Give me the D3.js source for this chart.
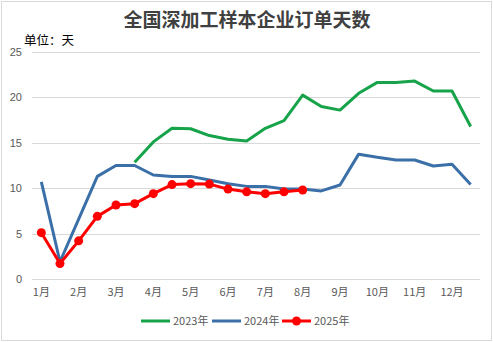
<!DOCTYPE html>
<html>
<head>
<meta charset="utf-8">
<script src="https://cdn.jsdelivr.net/npm/d3@7"></script>
<style>
  html, body { margin: 0; padding: 0; background: #fff; }
  svg { display: block; }
</style>
</head>
<body>
<svg id="chart" width="493" height="342"></svg>
<script>
// Half-month periods: 24 slots per year, a label on every other slot
const periods = d3.range(24);
const monthLabels = ["1月","2月","3月","4月","5月","6月","7月","8月","9月","10月","11月","12月"];
const yTicks = [0, 5, 10, 15, 20, 25];

// Order days per series (null = no data)
const values2023 = [null, null, null, null, null, 12.85, 15.1, 16.6, 16.55, 15.8, 15.4, 15.2,
                    16.6, 17.45, 20.25, 19.0, 18.6, 20.45, 21.65, 21.65, 21.8, 20.7, 20.7, 16.8];
const values2024 = [10.7, 1.9, 6.6, 11.3, 12.5, 12.5, 11.45, 11.3, 11.3, 10.9, 10.5, 10.2,
                    10.2, 9.9, 9.9, 9.7, 10.35, 13.75, 13.4, 13.1, 13.1, 12.45, 12.65, 10.4];
const values2025 = [5.1, 1.7, 4.2, 6.9, 8.15, 8.3, 9.4, 10.4, 10.5, 10.45, 9.9, 9.6,
                    9.4, 9.6, 9.8];

const seriesNames = ["2023年", "2024年", "2025年"];
const seriesColors = ["#16a34a", "#3b6fa8", "#ff0000"];

const svg = d3.select("#chart");
const W = 493, H = 342;
const margin = { left: 32, right: 13, top: 52, bottom: 63 };

// outer frame
svg.append("rect")
  .attr("x", 1.5).attr("y", 1.5)
  .attr("width", W - 3).attr("height", H - 3)
  .attr("fill", "#fff").attr("stroke", "#d9d9d9");

const x = d3.scaleBand().domain(periods).range([margin.left, W - margin.right]);
const y = d3.scaleLinear().domain([0, 25]).range([H - margin.bottom, margin.top]);
const cx = i => x(i) + x.bandwidth() / 2;

// gridlines
svg.append("g")
  .selectAll("line").data(yTicks).join("line")
  .attr("x1", margin.left).attr("x2", W - margin.right)
  .attr("y1", d => Math.round(y(d)) + 0.5).attr("y2", d => Math.round(y(d)) + 0.5)
  .attr("stroke", "#d9d9d9").attr("stroke-width", 1);

// y axis labels
const yAxis = d3.axisLeft(y).tickValues(yTicks).tickSize(0).tickPadding(10);
svg.append("g")
  .attr("transform", `translate(${margin.left},0)`)
  .call(yAxis)
  .call(g => g.select(".domain").remove())
  .call(g => g.selectAll("text")
    .attr("fill", "#595959")
    .style("font-family", "'Liberation Sans', Arial, sans-serif")
    .style("font-size", "11px"));

// x axis labels (one per month)
const xAxis = d3.axisBottom(x)
  .tickValues(periods.filter(i => i % 2 === 0))
  .tickFormat(i => monthLabels[i / 2])
  .tickSize(0).tickPadding(9);
svg.append("g")
  .attr("transform", `translate(0,${H - margin.bottom})`)
  .call(xAxis)
  .call(g => g.select(".domain").remove())
  .call(g => g.selectAll("text")
    .attr("fill", "#595959")
    .style("font-family", "'Noto Sans CJK SC', sans-serif")
    .style("font-size", "11px"));

// lines
const line = d3.line()
  .defined(d => d.v != null)
  .x(d => cx(d.i))
  .y(d => y(d.v));

const allSeries = [values2023, values2024, values2025];
allSeries.forEach((vals, k) => {
  const pts = vals.map((v, i) => ({ i, v }));
  svg.append("path")
    .datum(pts)
    .attr("fill", "none")
    .attr("stroke", seriesColors[k])
    .attr("stroke-width", 3)
    .attr("stroke-linejoin", "round")
    .attr("d", line);
});

// markers for 2025
svg.append("g")
  .selectAll("circle")
  .data(values2025.map((v, i) => ({ i, v })).filter(d => d.v != null))
  .join("circle")
  .attr("cx", d => cx(d.i))
  .attr("cy", d => y(d.v))
  .attr("r", 4.5)
  .attr("fill", seriesColors[2]);

// title
svg.append("text")
  .attr("x", 247).attr("y", 27)
  .attr("text-anchor", "middle")
  .attr("fill", "#404040")
  .style("font-family", "'Noto Sans CJK SC', sans-serif")
  .style("font-weight", "bold")
  .style("font-size", "19px")
  .text("全国深加工样本企业订单天数");

// unit label
svg.append("text")
  .attr("x", 24).attr("y", 45)
  .attr("fill", "#000")
  .style("font-family", "'Noto Sans CJK SC', sans-serif")
  .style("font-size", "12.5px")
  .text("单位：天");

// legend
const legendX = [141, 212, 282];
const legendY = 321;
const lg = svg.append("g");
seriesNames.forEach((name, k) => {
  const g = lg.append("g").attr("transform", `translate(${legendX[k]},${legendY})`);
  g.append("line")
    .attr("x1", 0).attr("x2", 29).attr("y1", 0).attr("y2", 0)
    .attr("stroke", seriesColors[k]).attr("stroke-width", 3);
  if (k === 2) {
    g.append("circle").attr("cx", 14.5).attr("cy", 0).attr("r", 4.5).attr("fill", seriesColors[k]);
  }
  g.append("text")
    .attr("x", 32).attr("y", 4)
    .attr("fill", "#595959")
    .style("font-family", "'Noto Sans CJK SC', sans-serif")
    .style("font-size", "11px")
    .text(name);
});
</script>
</body>
</html>
